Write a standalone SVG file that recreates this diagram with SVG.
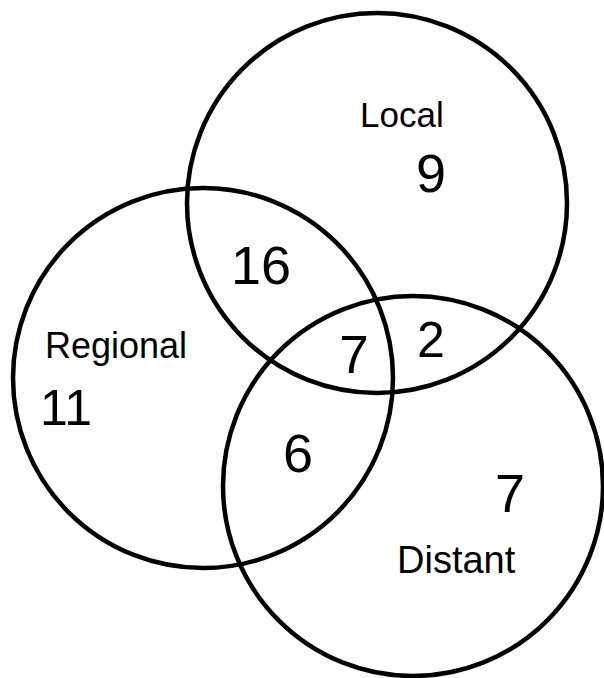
<svg xmlns="http://www.w3.org/2000/svg" width="604" height="678" viewBox="0 0 604 678">
<style>
.c{fill:none;stroke:#000;stroke-width:4.5}
text{font-family:"Liberation Sans",Arial,sans-serif;fill:#000}
.n{text-anchor:middle}
</style>
<rect width="604" height="678" fill="#fff"/>
<g id="local"><circle class="c" cx="377" cy="203" r="190"/></g>
<g id="regional"><circle class="c" cx="203" cy="378" r="190"/></g>
<g id="distant"><circle class="c" cx="413" cy="486" r="190"/></g>
<g id="labels">
<text x="360" y="127" font-size="35">Local</text>
<text class="n" x="431" y="192" font-size="54">9</text>
<text class="n" x="261" y="284" font-size="54">16</text>
<text x="45" y="358" font-size="36">Regional</text>
<text class="n" x="66" y="425" font-size="50">11</text>
<text class="n" x="354" y="373" font-size="53">7</text>
<text class="n" x="431" y="357" font-size="50">2</text>
<text class="n" x="298" y="472" font-size="54">6</text>
<text class="n" x="510" y="512" font-size="54">7</text>
<text x="397" y="573" font-size="38">Distant</text>
</g>
<g id="connectors"></g>
</svg>
